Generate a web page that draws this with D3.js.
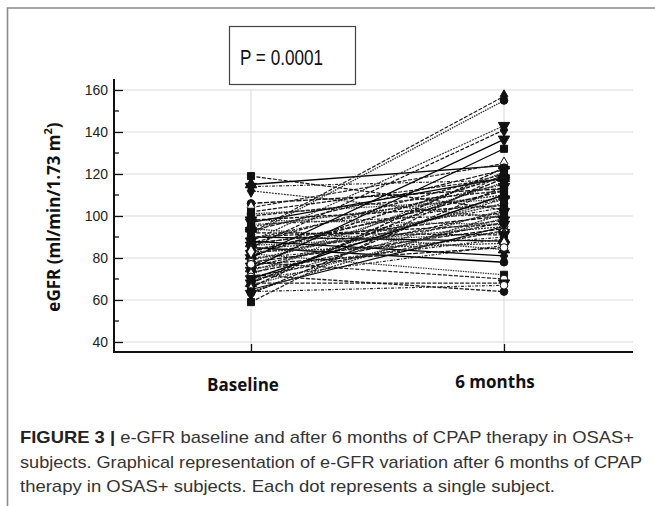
<!DOCTYPE html>
<html>
<head>
<meta charset="utf-8">
<script src="https://cdn.jsdelivr.net/npm/d3@7"></script>
<style>
  html, body { margin: 0; padding: 0; background: #fff; }
  svg { display: block; }
</style>
</head>
<body>
<svg id="chart" width="655" height="506"></svg>
<script>
// ---------------- data ----------------
const categories = ["Baseline", "6 months"];
const baseline  = [119, 115, 114, 112, 106, 104, 101, 98, 97, 96, 95, 93, 92, 91, 90, 90, 89, 88, 87, 87,
                   86, 85, 85, 84, 84, 83, 82, 82, 81, 80, 80, 79, 78, 78, 77, 76, 75, 75, 74, 73,
                   72, 72, 71, 70, 70, 69, 68, 68, 67, 66, 65, 64, 64, 63, 59, 94, 92, 88, 86, 83,
                   77, 100, 98, 102];
const sixMonths = [103, 124, 117, 99, 113, 125, 108, 105, 118, 101, 110, 122, 157, 155, 96, 88, 115, 143, 100, 120,
                   92, 141, 78, 104, 95, 112, 98, 72, 119, 136.5, 90, 106, 94, 70, 116, 102, 132, 89, 108, 97,
                   64, 121, 93, 110, 86, 103, 118, 68, 99, 123, 95, 67, 101, 114, 120, 84, 91, 81, 108, 87,
                   85, 112, 96, 118];
const yTicks = [40, 60, 80, 100, 120, 140, 160];
const pLabel = "P = 0.0001";
const yTitle = "eGFR (ml/min/1.73 m";
const captionLines = [
  ["FIGURE 3 |", " e-GFR baseline and after 6 months of CPAP therapy in OSAS+"],
  ["", "subjects. Graphical representation of e-GFR variation after 6 months of CPAP"],
  ["", "therapy in OSAS+ subjects. Each dot represents a single subject."]
];

// ---------------- layout ----------------
const svg = d3.select("#chart");
const y = d3.scaleLinear().domain([40, 160]).range([342, 90]);
const x = d3.scalePoint().domain(categories).range([251, 504]);
const axisLeftX = 114, axisRightX = 633, axisBottomY = 352;

// outer frame (top + left)
svg.append("path")
  .attr("d", `M655,8 H7.5 V506`)
  .attr("fill", "none").attr("stroke", "#8a8a8a").attr("stroke-width", 1.6);

// P box
svg.append("rect").attr("x", 229.5).attr("y", 26.5).attr("width", 126).attr("height", 58)
  .attr("fill", "#fff").attr("stroke", "#444").attr("stroke-width", 1.2);
svg.append("text").attr("x", 240).attr("y", 65)
  .attr("font-family", "Liberation Sans, Arial, sans-serif").attr("font-size", 22)
  .attr("textLength", 83).attr("lengthAdjust", "spacingAndGlyphs")
  .attr("fill", "#111").text(pLabel);

// grid
const grid = svg.append("g");
grid.selectAll("line.h").data(yTicks).join("line")
  .attr("x1", axisLeftX).attr("x2", axisRightX)
  .attr("y1", d => y(d)).attr("y2", d => y(d))
  .attr("stroke", "#d9d9d9").attr("stroke-width", 1);
grid.selectAll("line.v").data(categories).join("line")
  .attr("x1", d => x(d)).attr("x2", d => x(d))
  .attr("y1", y(160)).attr("y2", axisBottomY)
  .attr("stroke", "#d9d9d9").attr("stroke-width", 1);

// subject lines
const dashCycle = ["4,1.5", "", "3,1.5,1,1.5", "2,1", "5,1.5", "4,1.5", "1.5,1"];
const shadeCycle = ["#111", "#000", "#222", "#333", "#111", "#222", "#333"];
const subjects = baseline.map((b, i) => ({ b, m: sixMonths[i], i }));

const lines = svg.append("g");
lines.selectAll("line").data(subjects).join("line")
  .attr("x1", x(categories[0])).attr("x2", x(categories[1]))
  .attr("y1", d => y(d.b)).attr("y2", d => y(d.m))
  .attr("stroke", d => shadeCycle[d.i % shadeCycle.length])
  .attr("stroke-width", d => (d.i % 3 === 1 ? 1.4 : 1.2))
  .attr("stroke-dasharray", d => dashCycle[d.i % dashCycle.length]);

// markers
const shapeCycle = [
  { type: d3.symbolSquare, rot: 0, fill: "#111", size: 50 },
  { type: d3.symbolTriangle, rot: 0, fill: "#111", size: 56 },
  { type: d3.symbolTriangle, rot: 180, fill: "#111", size: 56 },
  { type: d3.symbolDiamond, rot: 0, fill: "#111", size: 48 },
  { type: d3.symbolCircle, rot: 0, fill: "#111", size: 46 },
  { type: d3.symbolDiamond, rot: 0, fill: "#fff", size: 48 },
  { type: d3.symbolCircle, rot: 0, fill: "#fff", size: 46 },
  { type: d3.symbolSquare, rot: 0, fill: "#111", size: 50 },
  { type: d3.symbolTriangle, rot: 180, fill: "#111", size: 56 }
];
const markers = svg.append("g");
subjects.forEach(d => {
  const s = shapeCycle[d.i % shapeCycle.length];
  const sym = d3.symbol().type(s.type).size(s.size)();
  [[categories[0], d.b], [categories[1], d.m]].forEach(([c, v]) => {
    markers.append("path")
      .attr("d", sym)
      .attr("transform", `translate(${x(c)},${y(v)}) rotate(${s.rot})`)
      .attr("fill", s.fill).attr("stroke", "#111").attr("stroke-width", 1);
  });
});

// axes
const axisG = svg.append("g");
axisG.append("line").attr("x1", axisLeftX).attr("x2", axisLeftX)
  .attr("y1", 79).attr("y2", axisBottomY + 1).attr("stroke", "#111").attr("stroke-width", 2);
axisG.append("line").attr("x1", axisLeftX - 1).attr("x2", axisRightX)
  .attr("y1", axisBottomY).attr("y2", axisBottomY).attr("stroke", "#111").attr("stroke-width", 2);

// y ticks (inward) with minor ticks
const yAxis = d3.axisRight(y).tickValues(yTicks).tickSize(9).tickFormat("");
const yAxisG = svg.append("g").attr("transform", `translate(${axisLeftX},0)`).call(yAxis);
yAxisG.select(".domain").remove();
yAxisG.selectAll(".tick line").attr("stroke", "#111").attr("stroke-width", 1.3);
const minor = d3.range(50, 170, 20);
svg.append("g").selectAll("line").data(minor).join("line")
  .attr("x1", axisLeftX).attr("x2", axisLeftX + 5)
  .attr("y1", d => y(d)).attr("y2", d => y(d))
  .attr("stroke", "#111").attr("stroke-width", 1.3);
svg.append("g").selectAll("text").data(yTicks).join("text")
  .attr("x", 108).attr("y", d => y(d)).attr("dy", "0.36em")
  .attr("text-anchor", "end")
  .attr("font-family", "Liberation Sans, Arial, sans-serif").attr("font-size", 14)
  .attr("fill", "#222").text(d => d);

// x ticks (inward)
const xAxis = d3.axisTop(x).tickSize(8).tickFormat("");
const xAxisG = svg.append("g").attr("transform", `translate(0,${axisBottomY})`).call(xAxis);
xAxisG.select(".domain").remove();
xAxisG.selectAll(".tick line").attr("stroke", "#111").attr("stroke-width", 1.3);

// x labels
const xLabelOffsets = { "Baseline": [-8, 391], "6 months": [-9, 388] };
svg.append("g").selectAll("text").data(categories).join("text")
  .attr("x", d => x(d) + xLabelOffsets[d][0]).attr("y", d => xLabelOffsets[d][1])
  .attr("text-anchor", "middle")
  .attr("font-family", "Open Sans, sans-serif").attr("font-weight", "bold").attr("font-size", 17)
  .attr("fill", "#111").text(d => d);

// y title
const yt = svg.append("text")
  .attr("transform", `translate(60,217) rotate(-90)`)
  .attr("text-anchor", "middle")
  .attr("font-family", "Open Sans, sans-serif").attr("font-weight", "bold").attr("font-size", 17)
  .attr("fill", "#111");
yt.append("tspan").text(yTitle);
yt.append("tspan").attr("dy", -8).attr("font-size", 11).text("2");
yt.append("tspan").attr("dy", 8).text(")");

// caption
const capWidths = [614, 622, 535];
captionLines.forEach((ln, k) => {
  const t = svg.append("text").attr("x", 20).attr("y", 443 + k * 24.5)
    .attr("font-family", "Liberation Sans, Arial, sans-serif").attr("font-size", 17)
    .attr("fill", "#333")
    .attr("textLength", capWidths[k]).attr("lengthAdjust", "spacingAndGlyphs");
  if (ln[0]) t.append("tspan").attr("font-weight", "bold").attr("fill", "#222").text(ln[0]);
  t.append("tspan").text(ln[1]);
});
</script>
</body>
</html>
